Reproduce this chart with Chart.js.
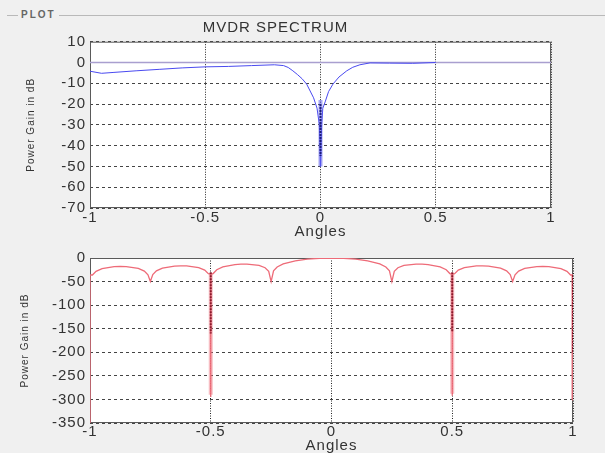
<!DOCTYPE html>
<html>
<head>
<meta charset="utf-8">
<script src="https://cdn.jsdelivr.net/npm/chart.js@4.4.1/dist/chart.umd.min.js"></script>
<style>
  html, body { margin: 0; padding: 0; background: #f0f0f0; }
  body { width: 605px; height: 453px; position: relative; overflow: hidden; font-family: "Liberation Sans", Arial, sans-serif; }
  .wrap { position: absolute; left: 0; width: 605px; }
  #wrapTop { top: 0; height: 245px; }
  #wrapBottom { top: 245px; height: 208px; }
  #frameLine { position: absolute; left: 7px; top: 15px; width: 598px; border-top: 1px solid #b9b9b9; z-index: 2; }
  #frameLabel { position: absolute; left: 18px; top: 9px; padding: 0 3px; background: #f0f0f0; font-size: 10px; font-weight: bold; color: #666; letter-spacing: 2px; line-height: 12px; z-index: 3; }
</style>
</head>
<body>
<div class="wrap" id="wrapTop"><canvas id="topChart" width="605" height="245"></canvas></div>
<div class="wrap" id="wrapBottom"><canvas id="bottomChart" width="605" height="208"></canvas></div>
<div id="frameLine"></div>
<div id="frameLabel">PLOT</div>
<script>
Chart.defaults.font.family = '"Liberation Sans", Arial, sans-serif';
Chart.defaults.color = "#333";

const angleTicks = [-1, -0.5, 0, 0.5, 1];
const topGainTicks = [10, 0, -10, -20, -30, -40, -50, -60, -70];
const bottomGainTicks = [0, -50, -100, -150, -200, -250, -300, -350];

// MVDR spectrum (top, blue)
const mvdrAngles = [
  -1, -0.95, -0.9, -0.8, -0.7, -0.6, -0.5, -0.4, -0.3, -0.2, -0.16, -0.14,
  -0.12, -0.1, -0.08, -0.06, -0.03, -0.015, -0.005, 0, 0.005, 0.01, 0.02,
  0.035, 0.054, 0.08, 0.114, 0.14, 0.171, 0.215, 0.3, 0.4, 0.5,
];
const mvdrGain = [
  -4.2, -5.2, -4.8, -4.0, -3.3, -2.6, -2.1, -1.9, -1.5, -1.1, -1.5, -2.4,
  -4, -5.8, -7.8, -10.4, -17, -22, -30, -50, -30, -22, -19,
  -14, -10.4, -7, -4, -2.3, -1.1, -0.2, -0.3, -0.4, 0,
];
const refAngles = [-1, 1];
const refGain = [0, 0];
const mvdrBandAngles = [0, 0];
const mvdrBandGain = [-18, -50];
const mvdrDotAngles = [0, 0];
const mvdrDotGain = [-20, -45];

// beam pattern (bottom, red)
const beamAngles = [
  -1, -1, -0.99, -0.975, -0.95, -0.9, -0.875, -0.85, -0.8, -0.775, -0.76, -0.75,
  -0.74, -0.725, -0.7, -0.65, -0.625, -0.6, -0.55, -0.525, -0.51, -0.5, -0.5,
  -0.5, -0.49, -0.475, -0.45, -0.4, -0.375, -0.35, -0.3, -0.275, -0.26, -0.25,
  -0.24, -0.225, -0.2, -0.15, -0.1, -0.05, 0, 0.05, 0.1, 0.15, 0.2, 0.225,
  0.24, 0.25, 0.26, 0.275, 0.3, 0.35, 0.375, 0.4, 0.45, 0.475, 0.49, 0.5,
  0.5, 0.5, 0.51, 0.525, 0.55, 0.6, 0.625, 0.65, 0.7, 0.725, 0.74, 0.75,
  0.76, 0.775, 0.8, 0.85, 0.875, 0.9, 0.95, 0.975, 0.99, 1, 1,
];
const beamGain = [
  -350, -36, -36.1, -28.3, -22.6, -18.4, -17.9, -18.3, -22.2, -27.7, -35.5, -50,
  -35.3, -27.4, -21.7, -17.1, -16.5, -16.7, -20.3, -25.6, -33.2, -34, -295,
  -34, -33, -24.9, -18.9, -13.9, -13, -12.9, -15.8, -20.7, -28.1, -50,
  -27.4, -19.1, -12.5, -5.9, -2.4, -0.6, 0, -0.6, -2.4, -5.9, -12.5, -19.1,
  -27.4, -50, -28.1, -20.7, -15.8, -12.9, -13, -13.9, -18.9, -24.9, -33, -34,
  -292, -34, -33.2, -25.6, -20.3, -16.7, -16.5, -17.1, -21.7, -27.4, -35.3, -50,
  -35.5, -27.7, -22.2, -18.3, -17.9, -18.4, -22.6, -28.3, -36.1, -36, -303,
];
const beamBandAngles = [-0.5, -0.5, -0.5, 0.5, 0.5, 0.5, 1, 1];
const beamBandGain = [-32, -290, null, -32, -288, null, -36, -300];
const beamDotAngles = [-0.5, -0.5, -0.5, 0.5, 0.5, 0.5, 1, 1];
const beamDotGain = [-30, -160, null, -30, -157, null, -36, -200];

function points(xs, ys) {
  return xs.map((x, i) => ({ x: x, y: ys[i] }));
}

// white plot area, box round it, wider letters like the stretched original
const plotBox = {
  id: "plotBox",
  beforeDraw(chart) {
    const { ctx, chartArea: a } = chart;
    ctx.save();
    ctx.fillStyle = "#ffffff";
    ctx.fillRect(a.left, a.top, a.width, a.height);
    ctx.restore();
    ctx.letterSpacing = "1px";
  },
  beforeDatasetsDraw(chart) {
    const { ctx, chartArea: a } = chart;
    ctx.save();
    ctx.strokeStyle = "#5a5a5a";
    ctx.lineWidth = 1;
    ctx.strokeRect(a.left + 0.5, a.top + 0.5, a.width - 1, a.height - 1);
    ctx.restore();
  },
};

function xScale(axisHeight, labelPad, titlePad) {
  return {
    type: "linear",
    min: -1,
    max: 1,
    afterBuildTicks: (s) => { s.ticks = angleTicks.map((v) => ({ value: v })); },
    afterFit: (s) => { s.height = axisHeight; },
    ticks: { padding: labelPad, font: { size: 15 }, maxRotation: 0, autoSkip: false, callback: (v) => String(v) },
    grid: { drawTicks: false, color: "#222", lineWidth: 1 },
    border: { display: false, dash: [1, 1.5] },
    title: { display: true, text: "Angles", font: { size: 15 }, padding: { top: 0, bottom: titlePad } },
  };
}

function yScale(ticksList, titlePad) {
  return {
    type: "linear",
    min: ticksList[ticksList.length - 1],
    max: ticksList[0],
    afterBuildTicks: (s) => { s.ticks = ticksList.map((v) => ({ value: v })); },
    afterFit: (s) => { s.width = 90; },
    ticks: { padding: 4, font: { size: 15 }, autoSkip: false, callback: (v) => String(v) },
    grid: { drawTicks: false, color: "#444", lineWidth: 1 },
    border: { display: false, dash: [3, 3] },
    title: { display: true, text: "Power Gain in dB", font: { size: 10 }, padding: { top: titlePad, bottom: 0 } },
  };
}

const topChart = new Chart(document.getElementById("topChart"), {
  type: "line",
  data: {
    datasets: [
      { data: points(mvdrDotAngles, mvdrDotGain), borderColor: "#1c1c7a", borderWidth: 2, borderDash: [2, 1] },
      { data: points(mvdrBandAngles, mvdrBandGain), borderColor: "rgba(95, 95, 235, 0.55)", borderWidth: 4 },
      { data: points(mvdrAngles, mvdrGain), borderColor: "#4a4af0", borderWidth: 1 },
      { data: points(refAngles, refGain), borderColor: "#a99fcf", borderWidth: 1.5 },
    ],
  },
  options: {
    responsive: false,
    animation: false,
    devicePixelRatio: 1,
    layout: { padding: { left: 0, right: 54, top: 0, bottom: 0 } },
    elements: { point: { radius: 0 }, line: { tension: 0 } },
    plugins: {
      legend: { display: false },
      tooltip: { enabled: false },
      title: {
        display: true,
        text: "MVDR SPECTRUM",
        font: { size: 15, weight: "normal" },
        color: "#333",
        padding: { top: 19, bottom: 4.7 },
      },
    },
    scales: {
      x: xScale(37, 1, 4),
      y: yScale(topGainTicks, 25),
    },
  },
  plugins: [plotBox],
});

const bottomChart = new Chart(document.getElementById("bottomChart"), {
  type: "line",
  data: {
    datasets: [
      { data: points(beamDotAngles, beamDotGain), borderColor: "#8a1a2c", borderWidth: 2, borderDash: [2, 1], spanGaps: false },
      { data: points(beamAngles, beamGain), borderColor: "#ee6b78", borderWidth: 1.3 },
      { data: points(beamBandAngles, beamBandGain), borderColor: "rgba(238, 107, 120, 0.45)", borderWidth: 4, spanGaps: false },
    ],
  },
  options: {
    responsive: false,
    animation: false,
    devicePixelRatio: 1,
    layout: { padding: { left: 0, right: 32, top: 9, bottom: 0 } },
    elements: { point: { radius: 0 }, line: { tension: 0 } },
    plugins: {
      legend: { display: false },
      tooltip: { enabled: false },
    },
    scales: {
      x: xScale(30, 0, -2),
      y: yScale(bottomGainTicks, 19),
    },
  },
  plugins: [plotBox],
});
</script>
</body>
</html>
